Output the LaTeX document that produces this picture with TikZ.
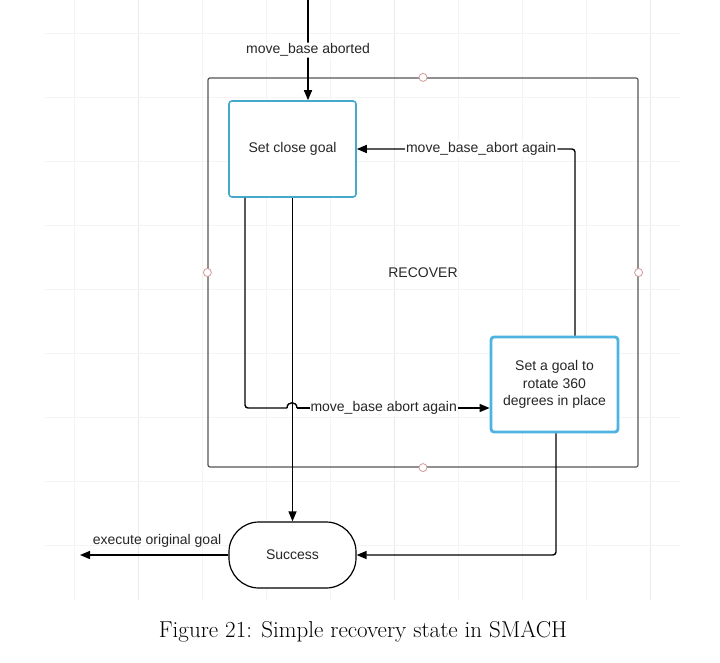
\documentclass[tikz,border=0pt]{standalone}
\usepackage{fontspec}
\setmainfont{Latin Modern Roman}
\newfontfamily\diagfont{Liberation Sans}
\usetikzlibrary{arrows.meta}
\definecolor{gridminor}{HTML}{F4F4F4}
\definecolor{gridmajor}{HTML}{E9E9E9}
\definecolor{framegray}{HTML}{555555}
\definecolor{boxblueA}{HTML}{45A9CB}
\definecolor{boxblueB}{HTML}{4DB3E0}
\definecolor{pinkdot}{HTML}{D49A9A}
\tikzset{
  dtext/.style={font=\diagfont\fontsize{14}{17.5}\selectfont, text=black!85},
  stateA/.style={dtext, draw=boxblueA, line width=1.6pt, rounded corners=3pt, fill=white},
  stateB/.style={dtext, draw=boxblueB, line width=2.8pt, rounded corners=3pt, fill=white, align=center},
  conn/.style={line width=1.4pt, draw=black, rounded corners=3pt, -{Triangle[length=10pt,width=8pt]}},
  lbl/.style={dtext, fill=white, inner sep=1pt},
  handle/.style={circle, draw=pinkdot, fill=white, line width=0.8pt, minimum size=8pt, inner sep=0pt},
}
\begin{document}
\begin{tikzpicture}[x=1pt,y=-1pt]
\useasboundingbox (0,0) rectangle (720,663);
% background grid
\foreach \gx in {74,138,202,266,330,394,458,522,586,650}{
  \draw[gridminor, line width=0.8pt] (\gx,0) -- (\gx,600);}
\foreach \gx in {138,394,650}{
  \draw[gridmajor, line width=0.8pt] (\gx,0) -- (\gx,600);}
\foreach \gy in {33,97,161,225,289,353,417,481,545}{
  \draw[gridminor, line width=0.8pt] (45,\gy) -- (680,\gy);}
% outer RECOVER container
\node[dtext, draw=framegray, line width=1.2pt, rounded corners=2pt,
      minimum width=430pt, minimum height=389pt, inner sep=0pt] (recover) at (423,272.5) {RECOVER};
\node[handle] (h1) at (recover.north) {};
\node[handle] (h2) at (recover.south) {};
\node[handle] (h3) at (recover.west) {};
\node[handle] (h4) at (recover.east) {};
% states
\node[stateA, minimum width=127pt, minimum height=96pt] (close) at (292.5,149) {Set close goal};
\node[stateB, minimum width=127pt, minimum height=95pt] (rot) at (554.5,384.5)
  {Set a goal to\\rotate 360\\degrees in place};
\node[dtext, draw=black, line width=1.2pt, rounded corners=30pt, fill=white,
      minimum width=127pt, minimum height=66pt] (succ) at (292.5,555) {Success};
% coordinates
\coordinate (start) at (308,0);
\coordinate (exitpt) at (80,555);
% top arrow
\draw[conn] (start) -- (close.north -| start)
  node[lbl, pos=0.5] {move\_base aborted};
% rot -> close
\draw[conn] (rot.north -| 575,0) |- (close.east)
  node[lbl, pos=0.715] {move\_base\_abort again};
% close -> rot with jump
\coordinate (c1) at (245,197);
\draw[line width=1.4pt, rounded corners=3pt] (close.south -| c1) |- (287,408);
\draw[line width=1.4pt] (287,408) .. controls (287,401) and (297,401) .. (297,408);
\draw[conn, rounded corners=0pt] (297,408) -- (rot.west |- 0,408)
  node[lbl, pos=0.45] {move\_base abort again};
% close -> success
\draw[conn] (close.south) -- (succ.north);
% rot -> success
\draw[conn] (rot.south -| 556,0) |- (succ.east);
% success -> exit
\draw[conn] (succ.west) -- (exitpt);
\node[dtext, anchor=south] (exitlbl) at (157,551) {execute original goal};
% caption
\node[font=\fontsize{23}{27}\selectfont] (caption) at (363,632) {Figure 21: Simple recovery state in SMACH};
\end{tikzpicture}
\end{document}
